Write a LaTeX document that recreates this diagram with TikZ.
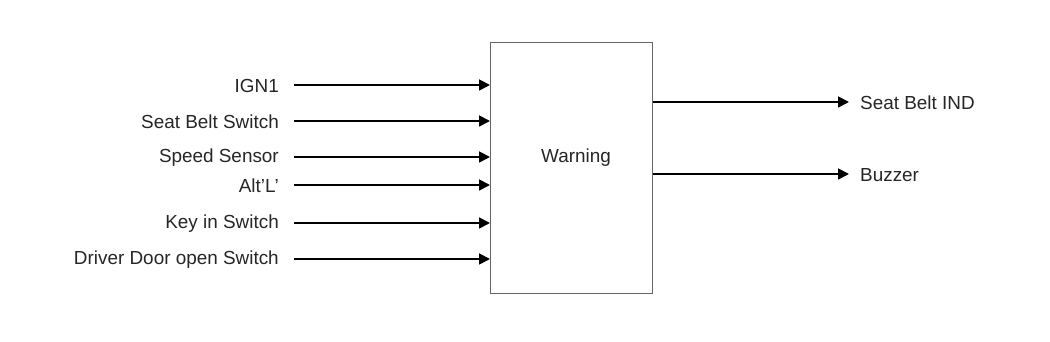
\documentclass[tikz,border=0pt]{standalone}
\usepackage{fontspec}
\setmainfont{Liberation Sans}
\usetikzlibrary{arrows.meta}
\begin{document}
\begin{tikzpicture}[x=1pt,y=1pt,
  lbl/.style={font=\fontsize{18.9}{22}\selectfont, inner sep=0pt, text=black!85},
  sig/.style={line width=1.8pt, -{Triangle[length=11pt,width=11pt]}},
  blk/.style={draw=black!60, line width=1pt, fill=white}]
\useasboundingbox (0,0) rectangle (1050,342);
\node[blk, minimum width=162pt, minimum height=251pt, anchor=south west] (w) at (490,48) {};
\node[lbl] (wl) at (576,184) {Warning};
\foreach \y/\t/\n in {257/IGN1/a, 221/Seat Belt Switch/b, 185/Speed Sensor/c, 157/Alt’L’/d, 119/Key in Switch/e, 83/Driver Door open Switch/f}{
  \node[lbl, anchor=east] (\n) at (279,\y-1) {\t};
  \coordinate (\n e) at (w.west |- 0,\y);
  \draw[sig] (294,\y) -- (\n e);
}
\foreach \y/\t/\n in {240/Seat Belt IND/o, 168/Buzzer/p}{
  \node[lbl, anchor=west] (\n) at (860,\y-1) {\t};
  \coordinate (\n s) at (w.east |- 0,\y);
  \draw[sig] (\n s) -- (849,\y);
}
\end{tikzpicture}
\end{document}
